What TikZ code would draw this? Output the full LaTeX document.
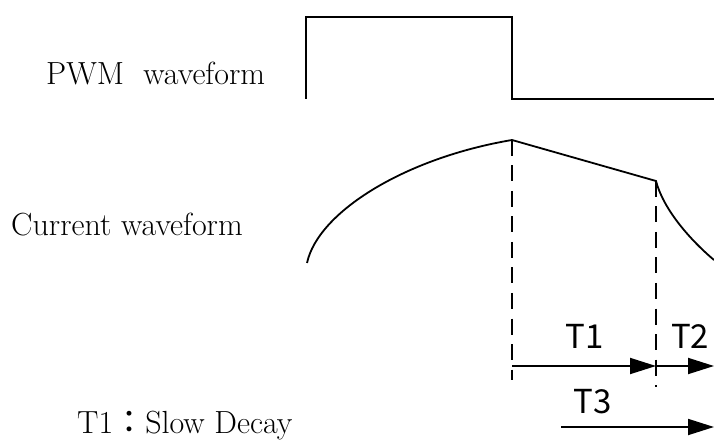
\documentclass[tikz,border=0pt]{standalone}
\usepackage{fontspec}
\usetikzlibrary{arrows.meta}
\newfontfamily\cjk{Noto Sans CJK JP}
\definecolor{waveBlack}{RGB}{0,0,0}
\tikzset{
  wave/.style={draw=waveBlack, line width=1.8pt, line join=miter},
  guide/.style={draw=waveBlack, line width=1.8pt, dash pattern=on 16pt off 9.5pt},
  timearrow/.style={-{Triangle[length=26pt,width=16pt]}, line width=1.8pt, draw=waveBlack},
  caption/.style={anchor=base west, inner sep=0pt, font=\fontsize{32}{38}\selectfont},
  tlabel/.style={anchor=base, inner sep=0pt, font=\cjk\fontsize{33}{38}\selectfont}
}
\begin{document}
\begin{tikzpicture}[x=1pt,y=-1pt]
    \useasboundingbox (0,0) rectangle (714,443);
    % PWM
    \coordinate (pwmstart) at (306,99);
    \coordinate (pwmrise) at (306,17);
    \coordinate (pwmfall) at (512,17);
    \coordinate (pwmlow) at (512,99);
    \coordinate (pwmend) at (714,99);
    \draw[wave] (pwmstart) -- (pwmrise) -- (pwmfall) -- (pwmlow) -- (pwmend);
    % current
    \coordinate (istart) at (307,263);
    \coordinate (ipeak) at (512,140);
    \coordinate (iknee) at (656,181);
    \coordinate (iend) at (714,260);
    \draw[wave] (istart) .. controls (318,212) and (405,158) .. (ipeak) -- (iknee)
      .. controls (663,208) and (688,238) .. (iend);
    % guides
    \coordinate (g1) at (512,380);
    \coordinate (g2) at (656,387);
    \draw[guide] (ipeak) -- (g1);
    \draw[guide] (iknee) -- (g2);
    % time spans
    \coordinate (t1start) at (512,366);
    \coordinate (t1end) at (656,366);
    \coordinate (t2end) at (714,366);
    \coordinate (t3start) at (561,427);
    \coordinate (t3end) at (714,427);
    \draw[timearrow] (t1start) -- (t1end);
    \draw[timearrow] (t1end) -- (t2end);
    \draw[timearrow] (t3start) -- (t3end);
    \node[tlabel] (lt1) at (585,348) {T1};
    \node[tlabel, anchor=base west] (lt2) at (671,348) {T2};
    \node[tlabel] (lt3) at (593,413) {T3};
    % captions
    \node[caption] (pwmtext) at (46,85) {PWM\ \ waveform};
    \node[caption] (curtext) at (11,236) {Current waveform};
    \node[caption] (slowtext) at (77,433) {T1{\cjk：}Slow Decay};
\end{tikzpicture}
\end{document}
